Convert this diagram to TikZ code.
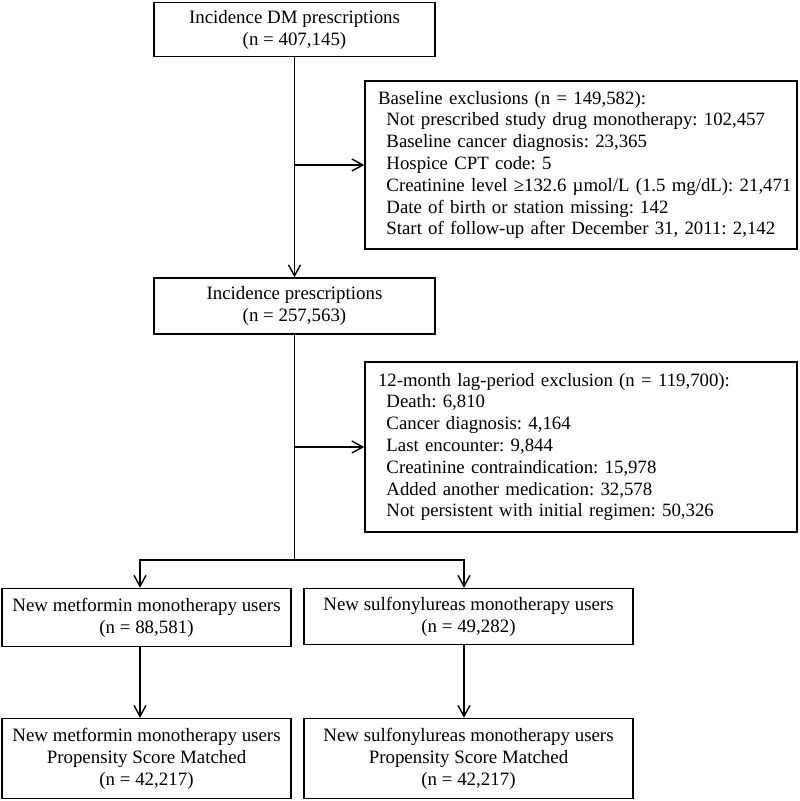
\documentclass[tikz,border=0pt]{standalone}
\usepackage{fontspec}
\setmainfont{Liberation Serif}
\usetikzlibrary{arrows.meta}
\frenchspacing
\newcommand{\itm}[1]{\mbox{\hspace*{0.45em}#1}}
\begin{document}
\begin{tikzpicture}[x=1pt,y=-1pt,
  box/.style={draw, line width=1.4pt, inner sep=0pt, align=center, font=\fontsize{18.9}{22}\selectfont},
  listbox/.style={draw, line width=1.4pt, inner xsep=13pt, inner ysep=0pt, align=left, text width=406pt, font=\fontsize{18.8}{21.8}\selectfont},
  conn/.style={line width=1.4pt},
  arr/.style={conn, -{Straight Barb[length=11pt,width=12pt]}}]
\useasboundingbox (0,0) rectangle (800,801);

\node[box, minimum width=281pt, minimum height=54pt] (A) at (294.5,29.5) {Incidence DM prescriptions\\(n = 407,145)};
\node[listbox, minimum height=168pt] (B) at (581,165) {\mbox{Baseline exclusions (n = 149,582):}\\
\itm{Not prescribed study drug monotherapy: 102,457}\\
\itm{Baseline cancer diagnosis: 23,365}\\
\itm{Hospice CPT code: 5}\\
\itm{Creatinine level ≥132.6 µmol/L (1.5 mg/dL): 21,471}\\
\itm{Date of birth or station missing: 142}\\
\itm{Start of follow-up after December 31, 2011: 2,142}};
\node[box, minimum width=281pt, minimum height=56pt] (C) at (294.5,306) {Incidence prescriptions\\(n = 257,563)};
\node[listbox, minimum height=170pt] (D) at (581,447) {\mbox{12-month lag-period exclusion (n = 119,700):}\\
\itm{Death: 6,810}\\
\itm{Cancer diagnosis: 4,164}\\
\itm{Last encounter: 9,844}\\
\itm{Creatinine contraindication: 15,978}\\
\itm{Added another medication: 32,578}\\
\itm{Not persistent with initial regimen: 50,326}};
\node[box, minimum width=289pt, minimum height=58pt] (E) at (146.5,617.5) {New metformin monotherapy users\\(n = 88,581)};
\node[box, minimum width=329pt, minimum height=56pt] (F) at (468.5,616.5) {New sulfonylureas monotherapy users\\(n = 49,282)};
\node[box, minimum width=289pt, minimum height=80pt] (G) at (146.5,758.5) {New metformin monotherapy users\\Propensity Score Matched\\(n = 42,217)};
\node[box, minimum width=329pt, minimum height=80pt] (H) at (468.5,758.5) {New sulfonylureas monotherapy users\\Propensity Score Matched\\(n = 42,217)};

\coordinate (S) at (294.5,560);
\coordinate (SL) at (140,560);
\coordinate (SR) at (464,560);

\draw[arr] (A) -- (C);
\draw[arr] (A.south |- B.west) -- (B.west);
\draw[conn] (C.south) -- (S);
\draw[arr] (C.south |- D.west) -- (D.west);
\draw[arr] (S) -- (SL) -- (SL |- E.north);
\draw[arr] (S) -- (SR) -- (SR |- F.north);
\draw[arr] (SL |- E.south) -- (SL |- G.north);
\draw[arr] (SR |- F.south) -- (SR |- H.north);
\end{tikzpicture}
\end{document}
